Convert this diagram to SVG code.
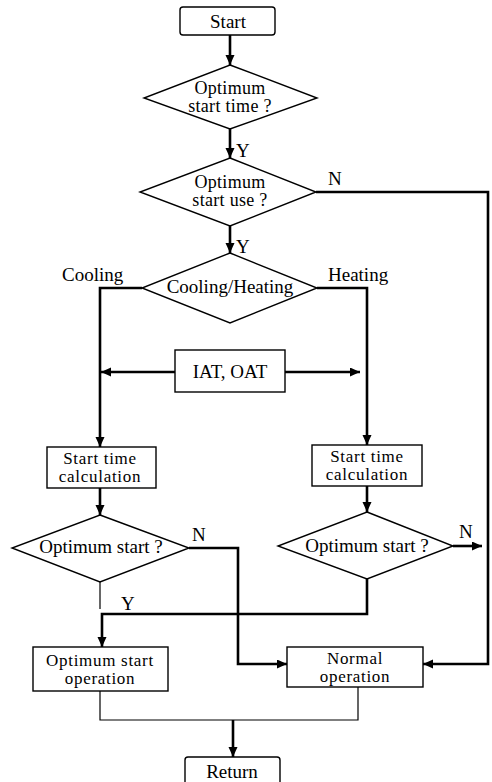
<svg xmlns="http://www.w3.org/2000/svg" width="492" height="782" viewBox="0 0 492 782">
<style>
.shape{fill:#fff;stroke:#000;stroke-width:1.4}
.t{font-family:"Liberation Serif","Times New Roman",serif;font-size:19px;fill:#000;text-anchor:middle}
.t2{font-family:"Liberation Serif","Times New Roman",serif;font-size:18px;letter-spacing:0.3px;fill:#000;text-anchor:middle}
.t3{font-family:"Liberation Serif","Times New Roman",serif;font-size:17px;letter-spacing:0.7px;fill:#000;text-anchor:middle}
.l{font-family:"Liberation Serif","Times New Roman",serif;font-size:19px;fill:#000}
.c{fill:none;stroke:#000;stroke-width:2.6}
.thin{fill:none;stroke:#000;stroke-width:1.2}
</style>
<defs>
<marker id="ah" markerUnits="userSpaceOnUse" markerWidth="11" markerHeight="10" refX="10" refY="4.5" orient="auto">
<path d="M0,0 L10,4.5 L0,9 z" fill="#000"/>
</marker>
</defs>
<rect width="492" height="782" fill="#fff"/>
<g id="connectors">
<path class="c" d="M230,35 V65" marker-end="url(#ah)"/>
<path class="c" d="M230,129 V158" marker-end="url(#ah)"/>
<path class="c" d="M230,226 V253" marker-end="url(#ah)"/>
<path class="c" d="M316,192 H488 V664 H423" marker-end="url(#ah)"/>
<path class="c" d="M142,288 H100 V447" marker-end="url(#ah)"/>
<path class="c" d="M317,288 H367 V445" marker-end="url(#ah)"/>
<path class="c" d="M175,372 H101" marker-end="url(#ah)"/>
<path class="c" d="M285,372 H360" marker-end="url(#ah)"/>
<path class="c" d="M100,488 V515" marker-end="url(#ah)"/>
<path class="c" d="M367,486 V512" marker-end="url(#ah)"/>
<path class="c" d="M189,548 H238 V664 H287" marker-end="url(#ah)"/>
<path class="thin" d="M100,582 V609"/>
<path class="c" d="M367,579 V614 H102 V647" marker-end="url(#ah)"/>
<path class="c" d="M453,546 H482" marker-end="url(#ah)"/>
<path class="thin" d="M100,691 V720 H358 V687"/>
<path class="c" d="M233,720 V757" marker-end="url(#ah)"/>
<text class="l" x="236" y="157">Y</text>
<text class="l" x="328" y="185">N</text>
<text class="l" x="236" y="253">Y</text>
<text class="l" x="62" y="281">Cooling</text>
<text class="l" x="328" y="281">Heating</text>
<text class="l" x="192" y="541">N</text>
<text class="l" x="459" y="538">N</text>
<text class="l" x="121" y="610">Y</text>
</g>
<g id="start">
<rect class="shape" x="180" y="7" width="95" height="28" rx="3"/>
<text class="t" x="228" y="28">Start</text>
</g>
<g id="d1">
<polygon class="shape" points="230,65 317,98 230,129 144,98"/>
<text class="t2" x="230" y="94">Optimum</text>
<text class="t2" x="230" y="112">start time ?</text>
</g>
<g id="d2">
<polygon class="shape" points="230,158 316,192 230,226 140,192"/>
<text class="t2" x="230" y="188">Optimum</text>
<text class="t2" x="230" y="206">start use ?</text>
</g>
<g id="d3">
<polygon class="shape" points="230,253 317,288 230,323 142,288"/>
<text class="t" x="230" y="293">Cooling/Heating</text>
</g>
<g id="iat">
<rect class="shape" x="175" y="350" width="110" height="42"/>
<text class="t" x="230" y="378">IAT, OAT</text>
</g>
<g id="calcL">
<rect class="shape" x="47" y="447" width="109" height="41"/>
<text class="t3" x="100" y="464">Start time</text>
<text class="t3" x="100" y="482">calculation</text>
</g>
<g id="calcR">
<rect class="shape" x="312" y="445" width="110" height="41"/>
<text class="t3" x="367" y="462">Start time</text>
<text class="t3" x="367" y="480">calculation</text>
</g>
<g id="dL">
<polygon class="shape" points="100,515 189,548 100,582 12,548"/>
<text class="t" x="101" y="553">Optimum start ?</text>
</g>
<g id="dR">
<polygon class="shape" points="367,512 453,546 367,579 278,546"/>
<text class="t" x="367" y="552">Optimum start ?</text>
</g>
<g id="optop">
<rect class="shape" x="33" y="647" width="135" height="44"/>
<text class="t3" x="100" y="666">Optimum start</text>
<text class="t3" x="100" y="684">operation</text>
</g>
<g id="normal">
<rect class="shape" x="287" y="647" width="136" height="40"/>
<text class="t3" x="355" y="664">Normal</text>
<text class="t3" x="355" y="682">operation</text>
</g>
<g id="return">
<rect class="shape" x="185" y="757" width="95" height="32" rx="3"/>
<text class="t" x="232" y="778">Return</text>
</g>
</svg>
